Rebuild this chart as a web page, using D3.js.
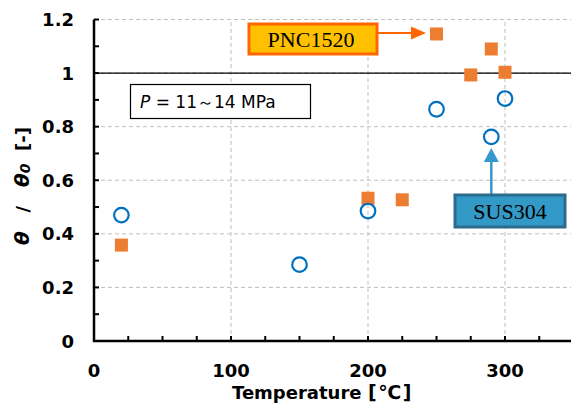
<!DOCTYPE html>
<html>
  <head>
    <meta charset="utf-8">
    <title>theta / theta0 vs temperature</title>
    <style>
      body { margin: 0; background: #fff; }
      text.tick { font: bold 18px "DejaVu Sans", sans-serif; fill: #000; }
      text.title { font: bold 18px "DejaVu Sans", sans-serif; fill: #000; white-space: pre; }
      text.note { font: 17px "DejaVu Sans", sans-serif; fill: #000; }
      text.tag { font: 22px "Liberation Serif", "Times New Roman", serif; fill: #000; }
    </style>
  </head>
  <body>
    <svg id="svg1" width="571" height="408"></svg>

    <script src="https://cdnjs.cloudflare.com/ajax/libs/d3/7.8.5/d3.min.js"></script>
    <script>
      // SUS304 (open circles)
      var susTemp = [20, 150, 200, 250, 290, 300];
      var susRatio = [0.47, 0.285, 0.485, 0.865, 0.762, 0.905];

      // PNC1520 (squares)
      var pncTemp = [20, 200, 225, 250, 275, 290, 300];
      var pncRatio = [0.358, 0.533, 0.527, 1.146, 0.993, 1.09, 1.003];

      var xTicks = [0, 100, 200, 300];
      var yTicks = [0, 0.2, 0.4, 0.6, 0.8, 1, 1.2];

      var svg = d3.select("#svg1");

      var x = d3.scaleLinear().domain([0, 350]).range([94, 573.5]);
      var y = d3.scaleLinear().domain([0, 1.2]).range([341, 19.5]);

      // dashed grid
      svg.append("g").selectAll("line")
        .data(yTicks.slice(1))
        .enter().append("line")
        .attr("x1", x(0)).attr("x2", 571)
        .attr("y1", function(d) { return y(d); })
        .attr("y2", function(d) { return y(d); })
        .attr("stroke", "#bfbfbf").attr("stroke-width", 1)
        .attr("stroke-dasharray", "4,3");

      svg.append("g").selectAll("line")
        .data(xTicks.slice(1))
        .enter().append("line")
        .attr("x1", function(d) { return x(d); })
        .attr("x2", function(d) { return x(d); })
        .attr("y1", y(0)).attr("y2", y(1.2))
        .attr("stroke", "#bfbfbf").attr("stroke-width", 1)
        .attr("stroke-dasharray", "4,3");

      // reference line at 1
      svg.append("line")
        .attr("x1", x(0)).attr("x2", 571)
        .attr("y1", y(1)).attr("y2", y(1))
        .attr("stroke", "#000").attr("stroke-width", 1.3);

      // axes with inward minor ticks
      var yMinor = d3.range(0, 1.21, 0.1);
      var xMinor = d3.range(0, 351, 25);

      svg.append("g").selectAll("line")
        .data(yMinor)
        .enter().append("line")
        .attr("x1", x(0)).attr("x2", x(0) + 5)
        .attr("y1", function(d) { return y(d); })
        .attr("y2", function(d) { return y(d); })
        .attr("stroke", "#000").attr("stroke-width", 2);

      svg.append("g").selectAll("line")
        .data(xMinor)
        .enter().append("line")
        .attr("x1", function(d) { return x(d); })
        .attr("x2", function(d) { return x(d); })
        .attr("y1", y(0)).attr("y2", y(0) - 5)
        .attr("stroke", "#000").attr("stroke-width", 2);

      svg.append("line")
        .attr("x1", x(0)).attr("x2", x(0))
        .attr("y1", y(0) + 1).attr("y2", y(1.2))
        .attr("stroke", "#000").attr("stroke-width", 2.5);
      svg.append("line")
        .attr("x1", x(0) - 1).attr("x2", 571)
        .attr("y1", y(0)).attr("y2", y(0))
        .attr("stroke", "#000").attr("stroke-width", 2.5);

      // tick labels
      svg.append("g").selectAll("text")
        .data(yTicks)
        .enter().append("text")
        .classed("tick", true)
        .attr("text-anchor", "end")
        .attr("x", 74)
        .attr("y", function(d) { return y(d) + 6.5; })
        .text(function(d) { return +d.toFixed(1); });

      svg.append("g").selectAll("text")
        .data(xTicks)
        .enter().append("text")
        .classed("tick", true)
        .attr("text-anchor", "middle")
        .attr("x", function(d) { return x(d); })
        .attr("y", 377)
        .text(function(d) { return d; });

      // axis titles
      var xt = svg.append("text")
        .classed("title", true)
        .attr("y", 399);
      xt.append("tspan").attr("x", 232).text("Temperature");
      xt.append("tspan").attr("x", 368).attr("font-size", "19px").attr("letter-spacing", "1.5").text("[℃]");

      var yt = svg.append("text")
        .classed("title", true)
        .attr("text-anchor", "middle")
        .attr("transform", "translate(29,186) rotate(-90)");
      yt.append("tspan").attr("font-style", "italic").attr("font-size", "20px").text("θ");
      yt.append("tspan").text("   /   ");
      yt.append("tspan").attr("font-style", "italic").attr("font-size", "20px").text("θ");
      yt.append("tspan").attr("font-style", "italic").attr("font-size", "14px").attr("dy", 1).text("0");
      yt.append("tspan").attr("dy", -1).text("  [-]");

      // pressure note
      svg.append("rect")
        .attr("x", 130.5).attr("y", 84.5).attr("width", 180).attr("height", 34)
        .attr("fill", "#fff").attr("stroke", "#000").attr("stroke-width", 1.2);
      var note = svg.append("text")
        .classed("note", true)
        .attr("x", 140).attr("y", 108);
      note.append("tspan").attr("font-style", "italic").text("P");
      note.append("tspan").text(" = 11～14 MPa");

      // markers
      svg.append("g").selectAll("rect")
        .data(d3.zip(pncTemp, pncRatio))
        .enter().append("rect")
        .attr("x", function(d) { return x(d[0]) - 6.5; })
        .attr("y", function(d) { return y(d[1]) - 6.5; })
        .attr("width", 13).attr("height", 13)
        .attr("fill", "#ed7d31");

      svg.append("g").selectAll("circle")
        .data(d3.zip(susTemp, susRatio))
        .enter().append("circle")
        .attr("cx", function(d) { return x(d[0]); })
        .attr("cy", function(d) { return y(d[1]); })
        .attr("r", 7.3)
        .attr("fill", "none")
        .attr("stroke", "#0070c0").attr("stroke-width", 2.2);

      // PNC1520 tag and arrow
      svg.append("rect")
        .attr("x", 249).attr("y", 24).attr("width", 128).attr("height", 30)
        .attr("fill", "#ffc000").attr("stroke", "#ff6600").attr("stroke-width", 3);
      svg.append("text").classed("tag", true)
        .attr("text-anchor", "middle")
        .attr("x", 311).attr("y", 47).text("PNC1520");
      svg.append("line")
        .attr("x1", 378).attr("y1", 33).attr("x2", 412).attr("y2", 33)
        .attr("stroke", "#ff6600").attr("stroke-width", 2);
      svg.append("path")
        .attr("d", "M411,26.5 L426,33 L411,39.5 Z")
        .attr("fill", "#ff6600");

      // SUS304 tag and arrow
      svg.append("line")
        .attr("x1", x(290)).attr("y1", 194).attr("x2", x(290)).attr("y2", 160)
        .attr("stroke", "#3399cc").attr("stroke-width", 2.5);
      svg.append("path")
        .attr("d", "M" + (x(290) - 7.5) + ",162 L" + x(290) + ",148 L" + (x(290) + 7.5) + ",162 Z")
        .attr("fill", "#3399cc");
      svg.append("rect")
        .attr("x", 455).attr("y", 195).attr("width", 110).attr("height", 32)
        .attr("fill", "#3399c6").attr("stroke", "#2a6b8e").attr("stroke-width", 3);
      svg.append("text").classed("tag", true)
        .attr("text-anchor", "middle")
        .attr("x", 510).attr("y", 219).text("SUS304");
    </script>
  </body>
</html>
